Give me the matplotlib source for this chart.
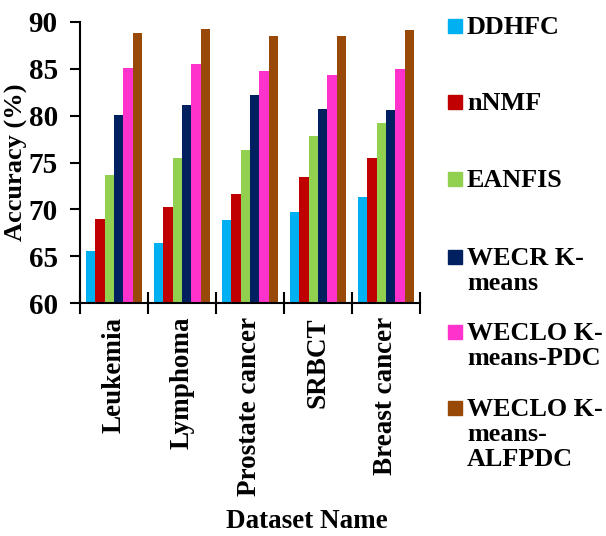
import numpy as np
import matplotlib
matplotlib.use('Agg')
import matplotlib.pyplot as plt
from matplotlib.patches import Rectangle

datasets = ['Leukemia', 'Lymphoma', 'Prostate cancer', 'SRBCT', 'Breast cancer']
methods = ['DDHFC', 'nNMF', 'EANFIS', 'WECR K-\nmeans', 'WECLO K-\nmeans-PDC', 'WECLO K-\nmeans-\nALFPDC']
colors = ['#00B0F0', '#C00000', '#92D050', '#002060', '#FF33CC', '#984807']

ddhfc = [65.5, 66.4, 68.9, 69.7, 71.3]
nnmf = [69.0, 70.2, 71.6, 73.4, 75.5]
eanfis = [73.7, 75.5, 76.3, 77.8, 79.2]
wecr = [80.1, 81.1, 82.2, 80.7, 80.6]
weclo_pdc = [85.1, 85.5, 84.8, 84.3, 85.0]
weclo_alfpdc = [88.8, 89.2, 88.5, 88.5, 89.1]
series = [ddhfc, nnmf, eanfis, wecr, weclo_pdc, weclo_alfpdc]

plt.rcParams['font.family'] = 'Liberation Serif'
plt.rcParams['font.weight'] = 'bold'

fig = plt.figure(figsize=(6.06, 5.36), dpi=100)
ax = fig.add_axes([80 / 606, 1 - 303 / 536, 340 / 606, 281 / 536])

x = np.arange(len(datasets))
w = 0.137
start = 0.088
for j, (vals, c) in enumerate(zip(series, colors)):
    ax.bar(x + start + (j + 0.5) * w, np.array(vals) - 60, bottom=60, width=w, color=c, linewidth=0)

ax.set_xlim(0, 5)
ax.set_ylim(60, 90)
ax.set_yticks([60, 65, 70, 75, 80, 85, 90])
ax.tick_params(axis='y', direction='out', length=7, width=1.5, labelsize=21, pad=9)
ax.set_xticks(np.arange(6))
ax.set_xticklabels([])
ax.tick_params(axis='x', which='major', direction='inout', length=16, width=1.5)
ax.set_xticks(x + 0.5, minor=True)
ax.set_xticklabels(datasets, minor=True, rotation=90, fontsize=19.5, fontweight='bold')
ax.tick_params(axis='x', which='minor', length=0, pad=10)
for s in ['top', 'right']:
    ax.spines[s].set_visible(False)
for s in ['left', 'bottom']:
    ax.spines[s].set_linewidth(1.5)
for lab in ax.get_yticklabels():
    lab.set_fontweight('bold')

fig.text(16 / 606, 1 - 162 / 536, 'Accuracy (%)', fontsize=19, fontweight='bold',
         rotation=90, ha='center', va='center')
fig.text(307 / 606, 1 - 522 / 536, 'Dataset Name', fontsize=19.5, fontweight='bold', ha='center', va='center')

# legend drawn at right
tops = [26, 102, 179, 257, 332, 408]
for name, c, ty in zip(methods, colors, tops):
    fig.patches.append(Rectangle((448 / 606, 1 - (ty + 7) / 536), 14 / 606, 14 / 536,
                                 transform=fig.transFigure, color=c))
    fig.text(467 / 606, 1 - (ty - 10) / 536, name, fontsize=18.8, fontweight='bold',
             va='top', ha='left', linespacing=1.12)

fig.savefig('out.png', dpi=100)
